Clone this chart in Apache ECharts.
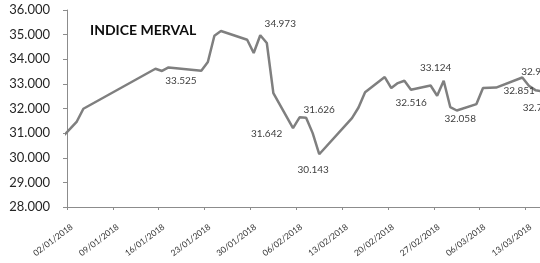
<!DOCTYPE html>
<html>
<head>
<meta charset="utf-8">
<script src="https://cdn.jsdelivr.net/npm/echarts@6/dist/echarts.min.js"></script>
<style>
  html, body { margin: 0; padding: 0; background: #fff; }
  #chart { width: 540px; height: 263px; }
</style>
</head>
<body>
<div id="chart"></div>
<script>
// --- datos: cierres diarios del Merval ---
const dates = [
  '2017-12-29', '2018-01-02', '2018-01-03', '2018-01-04', '2018-01-15', '2018-01-16',
  '2018-01-17', '2018-01-22', '2018-01-23', '2018-01-24', '2018-01-25', '2018-01-29',
  '2018-01-30', '2018-01-31', '2018-02-01', '2018-02-02', '2018-02-05', '2018-02-06',
  '2018-02-07', '2018-02-08', '2018-02-09', '2018-02-14', '2018-02-15', '2018-02-16',
  '2018-02-19', '2018-02-20', '2018-02-21', '2018-02-22', '2018-02-23', '2018-02-26',
  '2018-02-27', '2018-02-28', '2018-03-01', '2018-03-02', '2018-03-05', '2018-03-06',
  '2018-03-08', '2018-03-12', '2018-03-13', '2018-03-14', '2018-03-15'
];
const values = [
  30065, 31180, 31470, 31990, 33614, 33525,
  33667, 33536, 33886, 34955, 35146, 34793,
  34252, 34973, 34659, 32626, 31203, 31642,
  31626, 31000, 30143, 31610, 32041, 32660,
  33276, 32829, 33033, 33126, 32760, 32935,
  32516, 33124, 32058, 31919, 32179, 32829,
  32851, 33260, 32923, 32745, 32700
];

// puntos con etiqueta de valor
const labelDates = [
  '2018-01-16', '2018-01-31', '2018-02-06', '2018-02-07', '2018-02-09', '2018-02-27',
  '2018-02-28', '2018-03-01', '2018-03-08', '2018-03-13', '2018-03-14'
];
// desplazamiento de cada etiqueta respecto de su punto (px)
const labelOffsets = [
  [19, 10], [20, -12], [-33, 16], [13, -8], [-6, 16], [-26, 7],
  [-8, -13], [10, 12], [23, 3], [8, -14], [3, 18]
];

// marcas del eje X (cada 7 dias)
const tickDates = [
  '02/01/2018', '09/01/2018', '16/01/2018', '23/01/2018', '30/01/2018', '06/02/2018',
  '13/02/2018', '20/02/2018', '27/02/2018', '06/03/2018', '13/03/2018'
];

const Y_MIN = 28000;
const Y_MAX = 36000;
const Y_STEP = 1000;

// --- helpers ---
const DAY = 86400000;
const T0 = Date.UTC(2018, 0, 2);
const isoDay = s => {
  const [y, m, d] = s.split('-').map(Number);
  return (Date.UTC(y, m - 1, d) - T0) / DAY;
};
const dmyDay = s => {
  const [d, m, y] = s.split('/').map(Number);
  return (Date.UTC(y, m - 1, d) - T0) / DAY;
};
const dayToDmy = v => {
  const t = new Date(T0 + Math.floor(v) * DAY);
  const p = n => String(n).padStart(2, '0');
  return p(t.getUTCDate()) + '/' + p(t.getUTCMonth() + 1) + '/' + t.getUTCFullYear();
};
const fmtNum = v => String(Math.round(v)).replace(/\B(?=(\d{3})+(?!\d))/g, '.');

const tickValues = tickDates.map(dmyDay);
// las etiquetas giradas terminan un poco a la derecha de su marca
const labelValues = tickValues.map(v => v + 0.75);

// cada punto va al centro de su dia (como el eje de fechas de Excel)
const seriesData = dates.map((d, i) => {
  const item = { value: [isoDay(d) + 0.5, values[i]] };
  const k = labelDates.indexOf(d);
  if (k >= 0) item.label = { show: true, offset: labelOffsets[k] };
  return item;
});

const AXIS_COLOR = '#8c8c8c';
const FONT = 'Lato, "Open Sans", sans-serif';

const chart = echarts.init(document.getElementById('chart'));
chart.setOption({
  animation: false,
  backgroundColor: '#fff',
  title: {
    text: 'INDICE MERVAL',
    left: 90,
    top: 23,
    padding: 0,
    textStyle: { fontFamily: FONT, fontSize: 14, fontWeight: 'bold', color: '#0d0d0d' }
  },
  grid: { left: 67, right: 0, top: 10, bottom: 56, containLabel: false },
  xAxis: {
    type: 'value',
    min: 0,
    max: 72.2,
    interval: 7,
    splitLine: { show: false },
    axisLine: { show: true, lineStyle: { color: AXIS_COLOR, width: 1 } },
    axisTick: { show: true, length: 3, customValues: tickValues, lineStyle: { color: AXIS_COLOR } },
    axisLabel: {
      customValues: labelValues,
      rotate: 37,
      margin: 19,
      fontFamily: FONT,
      fontSize: 8.5,
      color: '#333',
      formatter: v => dayToDmy(v)
    }
  },
  yAxis: {
    type: 'value',
    min: Y_MIN,
    max: Y_MAX,
    interval: Y_STEP,
    splitLine: { show: false },
    axisLine: { show: true, lineStyle: { color: AXIS_COLOR, width: 1 } },
    axisTick: { show: true, length: 4, lineStyle: { color: AXIS_COLOR } },
    axisLabel: {
      margin: 17,
      fontFamily: FONT,
      fontSize: 13,
      color: '#262626',
      formatter: v => fmtNum(v)
    }
  },
  series: [{
    type: 'line',
    data: seriesData,
    clip: true,
    showSymbol: true,
    symbol: 'circle',
    symbolSize: 0,
    lineStyle: { color: '#7f7f7f', width: 2.5 },
    itemStyle: { color: '#7f7f7f' },
    emphasis: { disabled: true },
    label: {
      show: false,
      position: 'inside',
      align: 'center',
      verticalAlign: 'middle',
      fontFamily: FONT,
      fontSize: 10,
      color: '#404040',
      formatter: p => fmtNum(p.value[1])
    }
  }]
});
</script>
</body>
</html>
